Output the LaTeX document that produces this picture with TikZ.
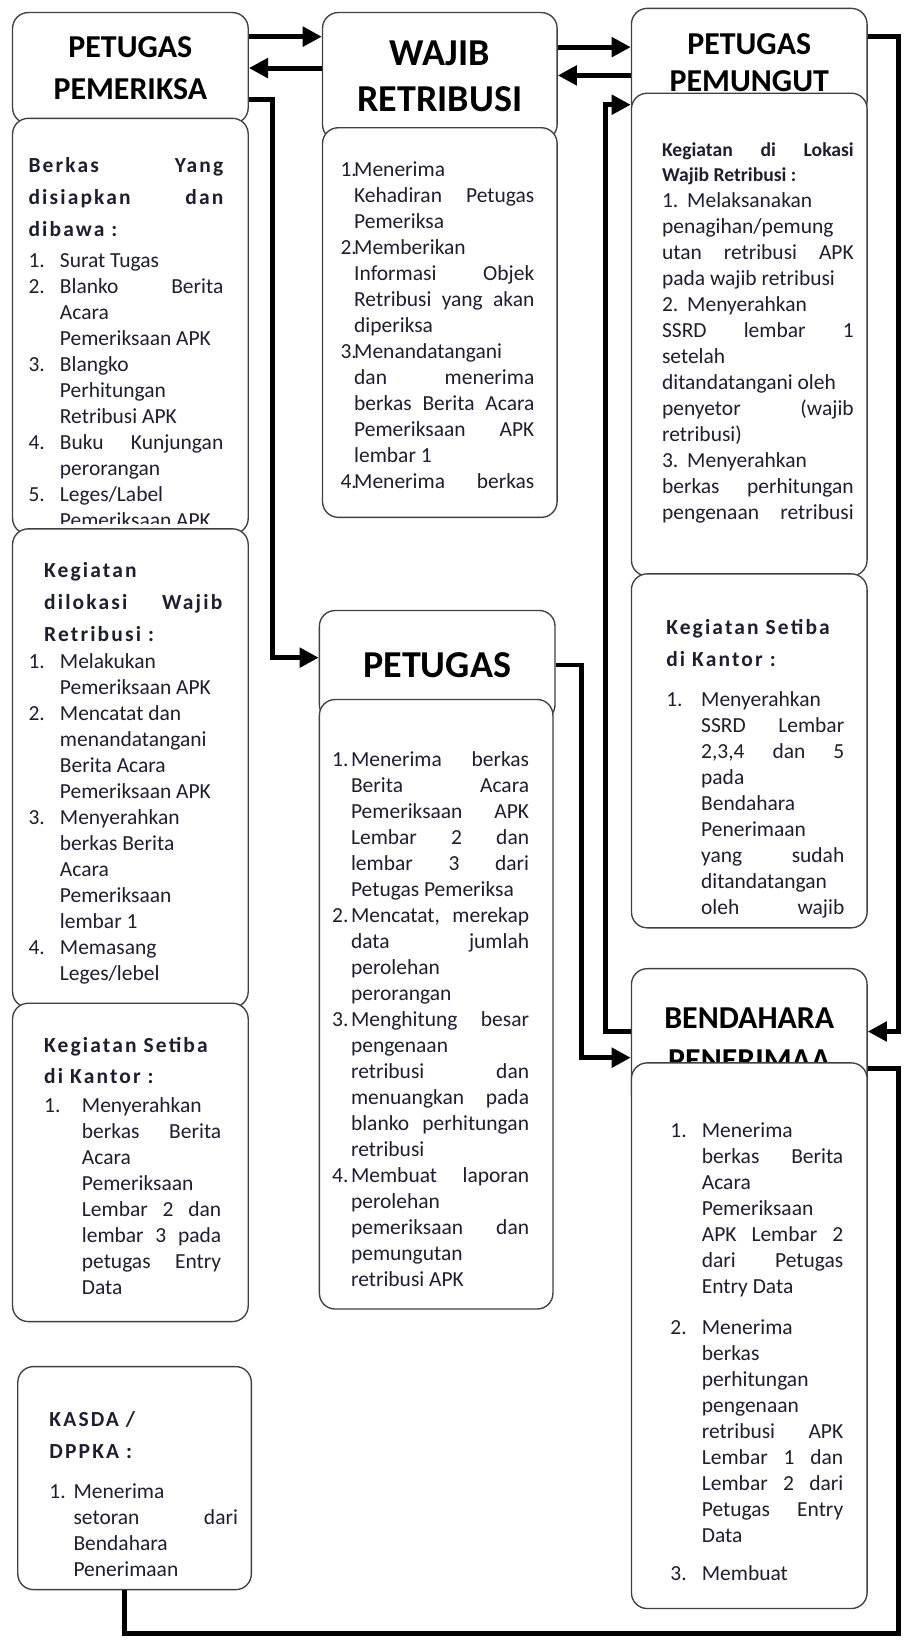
\documentclass[tikz,border=0pt]{standalone}
\usepackage{fontspec}
\setmainfont{Carlito}
\newfontfamily\ttlfont[LetterSpace=10]{Carlito}
\usetikzlibrary{arrows.meta}
\definecolor{ink}{RGB}{30,30,46}
\setlength{\parindent}{0pt}
\tolerance=10000 \hbadness=10000 \hyphenpenalty=10000
\newcommand{\bdy}{\fontsize{17.5}{21.2}\selectfont}
\newcommand{\ttl}{\ttlfont\bfseries\fontsize{17.5}{26}\selectfont}
\newcommand{\itm}[2][0.9cm]{\par\hangindent=#1\hangafter=1\noindent\makebox[#1][l]{#2}}

\begin{document}
\begin{tikzpicture}[x=0.03cm,y=-0.03cm]
	\tikzstyle{box}=[draw=black!75,line width=1.1pt,rounded corners=0.45cm,fill=white,inner sep=0pt]
	\tikzstyle{head}=[box,align=center,font=\bfseries\fontsize{26}{34}\selectfont]
	\tikzstyle{bighead}=[head,font=\bfseries\fontsize{31}{38}\selectfont]
	\tikzstyle{txt}=[anchor=north west,inner sep=0pt,align=justify,text=ink,font=\bdy]
	\tikzstyle{line}=[line width=4pt]
	\tikzstyle{conn}=[line,-{Triangle[length=0.55cm,width=0.55cm]}]

	\useasboundingbox[fill=white] (0,0) rectangle (866,1568);

	% Petugas Pemeriksa column
	\node[head,minimum width=6.75cm,minimum height=3.18cm] (pp) at (124.5,65) {PETUGAS\\PEMERIKSA};
	\node[box,minimum width=6.75cm,minimum height=11.91cm] (ppberkas) at (124.5,311.5) {};
	\begin{scope}
	\clip (ppberkas.north west) rectangle (237,500);
	\node[txt,text width=5.58cm] (ppberkas-t) at (27,150) {{\ttl Berkas Yang\linebreak disiapkan dan\linebreak dibawa :\par}\vspace{4pt}
		\itm{1.}Surat Tugas
		\itm{2.}Blanko Berita\linebreak Acara\newline Pemeriksaan APK
		\itm{3.}Blangko\newline Perhitungan\newline Retribusi APK
		\itm{4.}Buku Kunjungan\linebreak perorangan
		\itm{5.}Leges/Label\newline Pemeriksaan APK\par};
	\end{scope}

	\node[box,minimum width=6.75cm,minimum height=13.71cm] (ppkeg) at (124.5,733.5) {};
	\node[txt,text width=5.55cm] (ppkeg-t) at (27,537) {{\ttl\leftskip=0.45cm Kegiatan\newline dilokasi Wajib\linebreak Retribusi :\par}\vspace{1pt}
		\itm{1.}Melakukan\newline Pemeriksaan APK
		\itm{2.}Mencatat dan\newline menandatangani\newline Berita Acara\newline Pemeriksaan APK
		\itm{3.}Menyerahkan\newline berkas Berita\newline Acara\newline Pemeriksaan\newline lembar 1
		\itm{4.}Memasang\newline Leges/lebel\par};

	\node[box,minimum width=6.75cm,minimum height=9.12cm] (ppkantor) at (124.5,1110) {};
	\node[txt,text width=5.07cm] (ppkantor-t) at (42,990) {{\ttl Kegiatan Setiba\newline di Kantor :\par}\vspace{2pt}
		\itm[1.08cm]{1.}Menyerahkan\newline berkas Berita\linebreak Acara\newline Pemeriksaan\newline Lembar 2 dan\linebreak lembar 3 pada\linebreak petugas Entry\linebreak Data\par};

	\node[box,minimum width=6.69cm,minimum height=6.39cm] (kasda) at (128.5,1411.5) {};
	\node[txt,text width=5.4cm] (kasda-t) at (47,1348) {{\ttl KASDA /\newline DPPKA :\par}\vspace{11pt}
		\itm[0.69cm]{1.}Menerima\newline setoran dari\linebreak Bendahara\newline Penerimaan\par};

	% Wajib Retribusi and Petugas column
	\node[bighead,minimum width=6.72cm,minimum height=3.66cm] (wr) at (420,73) {WAJIB\\RETRIBUSI};
	\node[box,minimum width=6.72cm,minimum height=11.16cm] (wrbody) at (420,308) {};
	\node[txt,text width=5.55cm] (wrbody-t) at (325,143) {%
		\itm[0.39cm]{1.}Menerima\newline Kehadiran Petugas\linebreak Pemeriksa
		\itm[0.39cm]{2.}Memberikan\newline Informasi Objek\linebreak Retribusi yang akan\linebreak diperiksa
		\itm[0.39cm]{3.}Menandatangani\newline dan menerima\linebreak berkas Berita Acara\linebreak Pemeriksaan APK\linebreak lembar 1
		\itm[0.39cm]{4.}Menerima\hfill berkas\par};

	\node[bighead,minimum width=6.75cm,minimum height=3.15cm] (pt) at (417.5,635.5) {PETUGAS};
	\node[box,minimum width=6.69cm,minimum height=17.46cm] (ptbody) at (416.5,959) {};
	\node[txt,text width=5.64cm] (ptbody-t) at (317,707) {%
		\itm[0.54cm]{1.}Menerima berkas\linebreak Berita Acara\linebreak Pemeriksaan APK\linebreak Lembar 2 dan\linebreak lembar 3 dari\linebreak Petugas Pemeriksa
		\itm[0.54cm]{2.}Mencatat, merekap\linebreak data jumlah\linebreak perolehan\newline perorangan
		\itm[0.54cm]{3.}Menghitung besar\linebreak pengenaan\newline retribusi dan\linebreak menuangkan pada\linebreak blanko perhitungan\linebreak retribusi
		\itm[0.54cm]{4.}Membuat laporan\linebreak perolehan\newline pemeriksaan dan\linebreak pemungutan\newline retribusi APK\par};

	% Petugas Pemungut and Bendahara column
	\node[head,minimum width=6.75cm,minimum height=3.12cm,font=\bfseries\fontsize{26}{30}\selectfont] (pm) at (715.5,60) {PETUGAS\\PEMUNGUT};
	\node[box,minimum width=6.75cm,minimum height=13.83cm] (pmkeg) at (715.5,319.5) {};
	\node[txt,text width=5.49cm] (pmkeg-t) at (632,136) {{\bfseries\fontsize{16}{20.4}\selectfont Kegiatan di Lokasi\linebreak Wajib Retribusi :\par}
		\makebox[0.72cm][l]{1.}Melaksanakan\newline penagihan/pemung\newline utan retribusi APK\linebreak pada wajib retribusi\newline
		\makebox[0.72cm][l]{2.}Menyerahkan\newline SSRD lembar 1\linebreak setelah\newline ditandatangani oleh\newline penyetor (wajib\linebreak retribusi)\newline
		\makebox[0.72cm][l]{3.}Menyerahkan\newline berkas perhitungan\linebreak pengenaan\hfill retribusi\par};

	\node[box,minimum width=6.75cm,minimum height=10.14cm] (pmkantor) at (715.5,717) {};
	\begin{scope}
	\clip (pmkantor.north west) rectangle (828,876);
	\node[txt,text width=5.1cm] (pmkantor-t) at (636,591) {{\ttl Kegiatan Setiba\newline di Kantor :\par}\vspace{12pt}
		\itm[1.0cm]{1.}Menyerahkan\newline SSRD Lembar\linebreak 2,3,4 dan 5\linebreak pada\newline Bendahara\newline Penerimaan\newline yang sudah\linebreak ditandatangan\newline oleh\hfill wajib\par};
	\end{scope}

	\node[head,minimum width=6.75cm,minimum height=4.05cm] (bd) at (715.5,992.5) {BENDAHARA\\PENERIMAA};
	\node[box,minimum width=6.75cm,minimum height=15.63cm] (bdbody) at (715.5,1275.5) {};
	\node[txt,text width=4.95cm] (bdbody-t) at (640,1061) {%
		\itm{1.}Menerima\newline berkas Berita\linebreak Acara\newline Pemeriksaan\newline APK Lembar 2\linebreak dari Petugas\linebreak Entry Data\par\vspace{12pt}
		\itm{2.}Menerima\newline berkas\newline perhitungan\newline pengenaan\newline retribusi APK\linebreak Lembar 1 dan\linebreak Lembar 2 dari\linebreak Petugas Entry\linebreak Data\par\vspace{10pt}
		\itm{3.}Membuat\par};

	% Connect the boxes
	\draw[conn] (pp.east |- 0,35) -- (wr.west |- 0,35);
	\draw[conn] (wr.west |- 0,65) -- (pp.east |- 0,65);
	\draw[conn] (pp.east |- 0,95) -| (260,628) -- (pt.west |- 0,628);
	\draw[conn] (wr.east |- 0,45) -- (pm.west |- 0,45);
	\draw[conn] (pm.west |- 0,72) -- (wr.east |- 0,72);
	\draw[conn] (pt.east |- 0,635) -| (555,1010) -- (bd.west |- 0,1010);
	\draw[conn] (bd.west |- 0,985) -| (578,100) -- (pm.west |- 0,100);
	\draw[conn] (pm.east |- 0,35) -| (858,985) -- (bd.east |- 0,985);
	\draw[line] (bd.east |- 0,1020) -| (858,1560) -| ([xshift=-0.3cm]kasda.south);
\end{tikzpicture}
\end{document}
